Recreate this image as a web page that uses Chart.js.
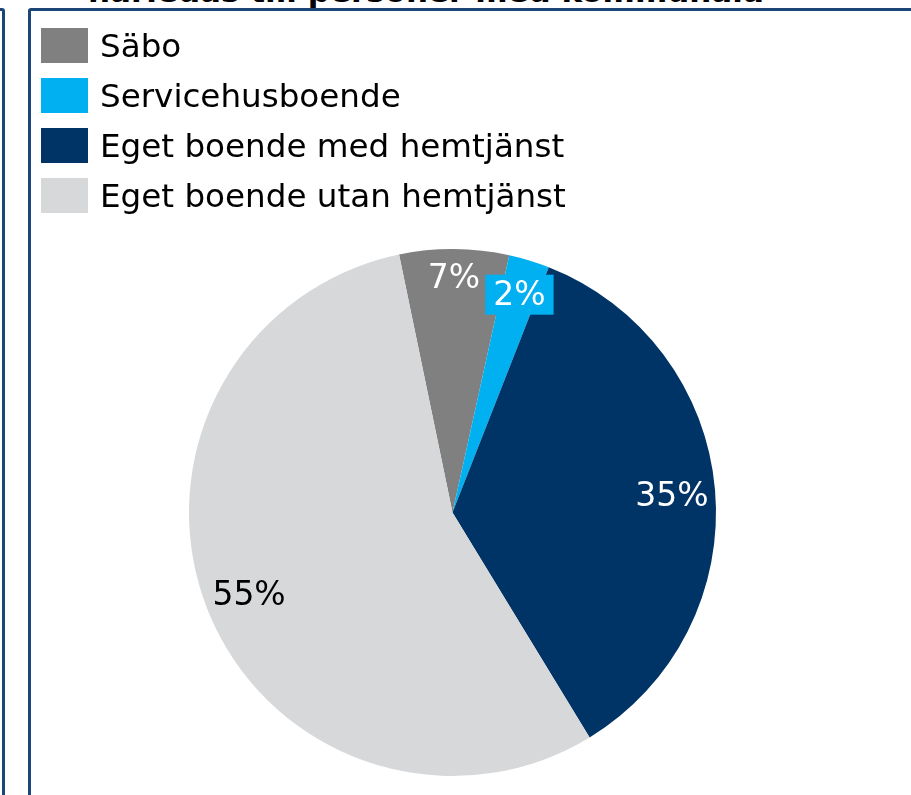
<!DOCTYPE html>
<html>
<head>
<meta charset="utf-8">
<script src="https://cdn.jsdelivr.net/npm/chart.js@4/dist/chart.umd.min.js"></script>
<style>
  html, body { margin: 0; padding: 0; background: #fff; overflow: hidden; }
  #wrap { position: relative; width: 911px; height: 795px; overflow: hidden; font-family: "DejaVu Sans", Verdana, sans-serif; }
  #titel { position: absolute; left: 88px; top: -26px; font-weight: bold; font-size: 31px; color: #000; white-space: nowrap; line-height: 34px; }
  #vanster { position: absolute; left: -11px; top: 8px; width: 10px; height: 900px; border: 3px solid #1c4677; border-radius: 3px; }
  #ruta { position: absolute; left: 28px; top: 8px; width: 1000px; height: 900px; border: 3px solid #1c4677; border-radius: 3px; background: #fff; }
  #pie { position: absolute; left: 0; top: 0; }
  #legend { position: absolute; left: 41px; top: 28px; }
  .leg-rad { position: relative; height: 50px; }
  .leg-ruta { position: absolute; left: 0; top: 0; width: 47px; height: 35px; }
  .leg-text { position: absolute; left: 59px; top: -2px; font-size: 32.6px; line-height: 40px; color: #000; white-space: nowrap; }
</style>
</head>
<body>
<div id="wrap">
  <div id="titel">härledas till personer med kommunala</div>
  <div id="vanster"></div>
  <div id="ruta"></div>
  <canvas id="pie" width="911" height="795"></canvas>
  <div id="legend"></div>
</div>
<script>
// Andelar (%) per boendeform
const kategorier = ['Säbo', 'Servicehusboende', 'Eget boende med hemtjänst', 'Eget boende utan hemtjänst'];
const andelar = [6.7, 2.49, 35.3, 55.4];
const farger = ['#808080', '#00b0f0', '#003366', '#d7d8da'];
const etikettFarger = ['#ffffff', '#ffffff', '#ffffff', '#000000'];
const etikettRadie = [0.90, 0.872, 0.836, 0.83];
const etikettBakgrund = [null, '#00b0f0', null, null];

// Etiketter med procent på varje tårtbit
const procentEtiketter = {
    id: 'procentEtiketter',
    afterDatasetsDraw(chart) {
        const ctx = chart.ctx;
        const meta = chart.getDatasetMeta(0);
        ctx.save();
        ctx.font = '33px "DejaVu Sans", Verdana, sans-serif';
        ctx.textAlign = 'center';
        ctx.textBaseline = 'middle';
        meta.data.forEach((arc, i) => {
            const p = arc.getProps(['x', 'y', 'startAngle', 'endAngle', 'outerRadius'], true);
            const mitt = (p.startAngle + p.endAngle) / 2;
            const r = p.outerRadius * etikettRadie[i];
            const x = p.x + Math.cos(mitt) * r;
            const y = p.y + Math.sin(mitt) * r + 2;
            const text = Math.round(andelar[i]) + '%';
            if (etikettBakgrund[i]) {
                const w = ctx.measureText(text).width + 16;
                ctx.fillStyle = etikettBakgrund[i];
                ctx.fillRect(x - w / 2, y - 20, w, 40);
            }
            ctx.fillStyle = etikettFarger[i];
            ctx.fillText(text, x, y + 2);
        });
        ctx.restore();
    }
};

function byggLegend() {
    const legend = document.getElementById('legend');
    kategorier.forEach((namn, i) => {
        const rad = document.createElement('div');
        rad.className = 'leg-rad';
        rad.innerHTML = '<div class="leg-ruta" style="background:' + farger[i] + '"></div>' +
            '<div class="leg-text">' + namn + '</div>';
        legend.appendChild(rad);
    });
}

function initPie() {
    const canvas = document.getElementById('pie');
    new Chart(canvas.getContext('2d'), {
        type: 'pie',
        data: {
            labels: kategorier,
            datasets: [{
                data: andelar,
                backgroundColor: farger,
                borderWidth: 0
            }]
        },
        options: {
            responsive: false,
            animation: false,
            rotation: -11.7,
            layout: { padding: { left: 189, right: 195, top: 249, bottom: 19 } },
            plugins: {
                legend: { display: false },
                tooltip: { enabled: false }
            }
        },
        plugins: [procentEtiketter]
    });
}

byggLegend();
initPie();
</script>
</body>
</html>
